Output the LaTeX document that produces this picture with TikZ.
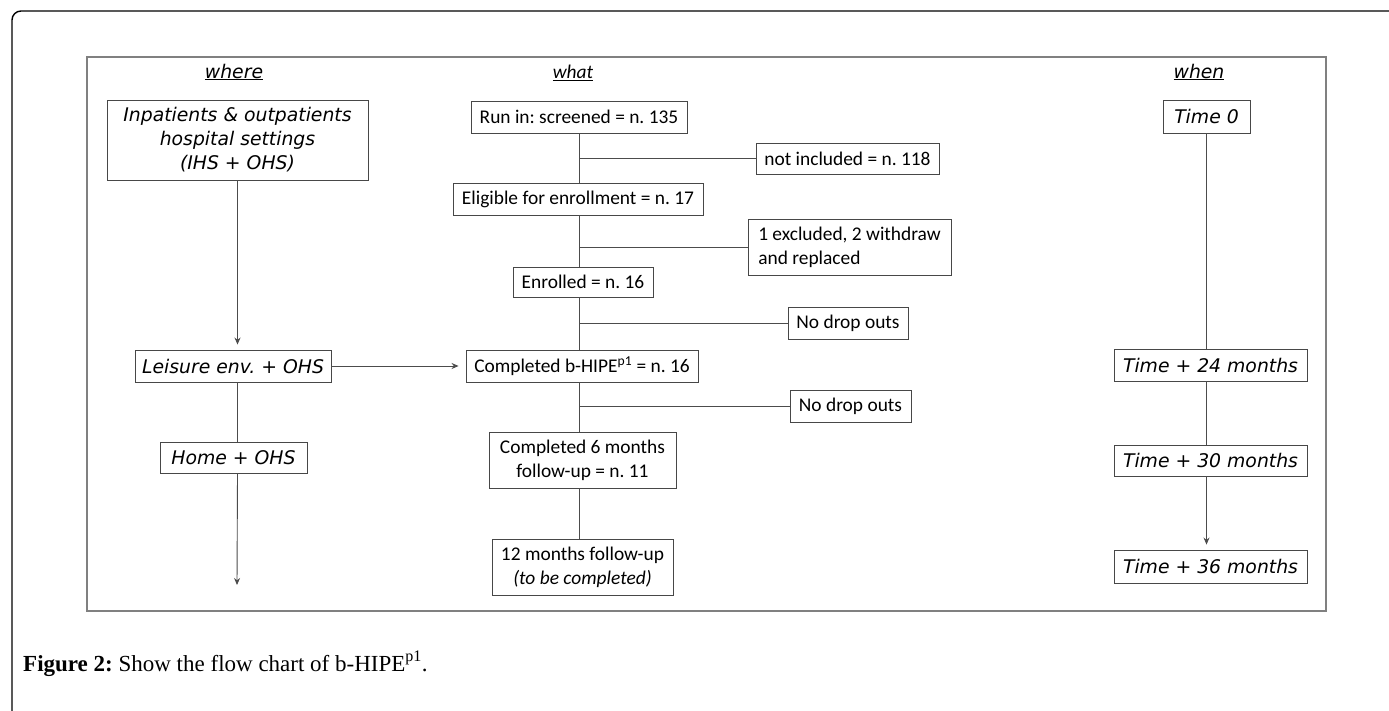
\documentclass[tikz,border=0pt]{standalone}
\usepackage{fontspec}
\setmainfont{Liberation Serif}
\newfontfamily\cb{Carlito}
\newfontfamily\dvo{DejaVu Sans Oblique}
\usetikzlibrary{arrows.meta}
\frenchspacing
\begin{document}
\begin{tikzpicture}[x=1pt,y=-1pt,
  box/.style={draw=black!72, line width=0.9pt, inner sep=0pt, text=black},
  wtxt/.style={font=\dvo\fontsize{18.8}{24}\selectfont},
  ctxt/.style={font=\cb\fontsize{19.4}{24}\selectfont},
  ln/.style={draw=black!70, line width=0.9pt},
  arr/.style={ln, -{Stealth[length=7pt,width=6pt]}, shorten >=5pt}]
\useasboundingbox (0,0) rectangle (1389,711);
\fill[white] (0,0) rectangle (1389,711);
% frames
\draw[black, line width=1.4pt, rounded corners=9pt] (12,711) -- (12,11) -- (1389,11);
\draw[draw=black!50, line width=1.1pt] (87,57) rectangle (1326,611);
% headings
\node[wtxt, inner sep=0pt] (hwhere) at (234,72) {\underline{where}};
\node[font=\cb\itshape\fontsize{19.4}{24}\selectfont, inner sep=0pt] (hwhat) at (573,73) {\underline{what}};
\node[wtxt, inner sep=0pt] (hwhen) at (1199,72) {\underline{when}};
% where column
\node[box, wtxt, align=center, minimum width=261pt, minimum height=80pt] (inpat) at (237.5,140) {Inpatients \& outpatients\\hospital settings\\(IHS + OHS)};
\node[box, wtxt, minimum width=196pt, minimum height=32pt] (leisure) at (233,366) {Leisure env. + OHS};
\node[box, wtxt, minimum width=147pt, minimum height=31pt] (home) at (233.5,457.5) {Home + OHS};
\coordinate (wend) at (237,585);
% what column
\node[box, ctxt, minimum width=216pt, minimum height=32pt] (run) at (579,117) {Run in: screened = n. 135};
\node[box, ctxt, minimum width=183pt, minimum height=31pt] (notinc) at (847.5,158.5) {not included = n. 118};
\node[box, ctxt, minimum width=250pt, minimum height=32pt] (elig) at (578,199) {Eligible for enrollment = n. 17};
\node[box, ctxt, align=left, minimum width=203pt, minimum height=56pt] (excl) at (849.5,247) {1 excluded, 2 withdraw\\and replaced\hspace{20pt}\hphantom{x}};
\node[box, ctxt, minimum width=140pt, minimum height=30pt] (enrol) at (583,282) {Enrolled = n. 16};
\node[box, ctxt, minimum width=120pt, minimum height=32pt] (drop1) at (848,323) {No drop outs};
\node[box, ctxt, minimum width=232pt, minimum height=32pt] (hipe) at (582,366) {Completed b-HIPE\textsuperscript{p1} = n. 16};
\node[box, ctxt, minimum width=121pt, minimum height=32pt] (drop2) at (850.5,406) {No drop outs};
\node[box, ctxt, align=center, minimum width=187pt, minimum height=56pt] (six) at (582.5,460) {Completed 6 months\\follow-up = n. 11};
\node[box, ctxt, align=center, minimum width=181pt, minimum height=56pt] (twelve) at (582.5,567) {12 months follow-up\\\textit{(to be completed)}};
% when column
\node[box, wtxt, minimum width=87pt, minimum height=33pt] (t0) at (1206.5,116.5) {Time 0};
\node[box, wtxt, minimum width=193pt, minimum height=32pt] (t24) at (1210.5,365) {Time + 24 months};
\node[box, wtxt, minimum width=193pt, minimum height=31pt] (t30) at (1210.5,460.5) {Time + 30 months};
\node[box, wtxt, minimum width=193pt, minimum height=33pt] (t36) at (1210.5,566.5) {Time + 36 months};
% caption
\node[anchor=base west, font=\fontsize{23}{27}\selectfont, inner sep=0pt] (cap) at (23,671) {\textbf{Figure 2:} Show the flow chart of b-HIPE\textsuperscript{p1}.};
% where connectors
\draw[arr] (inpat.south) -- (inpat.south |- leisure.north);
\draw[ln] (inpat.south |- leisure.south) -- (inpat.south |- home.north);
\draw[arr, shorten >=0pt] (inpat.south |- home.south) -- (wend);
\draw[arr, shorten >=7pt] (leisure.east) -- (hipe.west);
% what trunk
\draw[ln] (run.south) -- (run.south |- elig.north);
\draw[ln] (run.south |- elig.south) -- (run.south |- enrol.north);
\draw[ln] (run.south |- enrol.south) -- (run.south |- hipe.north);
\draw[ln] (run.south |- hipe.south) -- (run.south |- six.north);
\draw[ln] (run.south |- six.south) -- (run.south |- twelve.north);
% branches
\draw[ln] (run.south |- notinc.west) -- (notinc.west);
\draw[ln] (run.south |- excl.west) -- (excl.west);
\draw[ln] (run.south |- drop1.west) -- (drop1.west);
\draw[ln] (run.south |- drop2.west) -- (drop2.west);
% when connectors
\draw[ln] (t0.south) -- (t0.south |- t24.north);
\draw[ln] (t0.south |- t24.south) -- (t0.south |- t30.north);
\draw[arr] (t0.south |- t30.south) -- (t0.south |- t36.north);
\end{tikzpicture}
\end{document}
